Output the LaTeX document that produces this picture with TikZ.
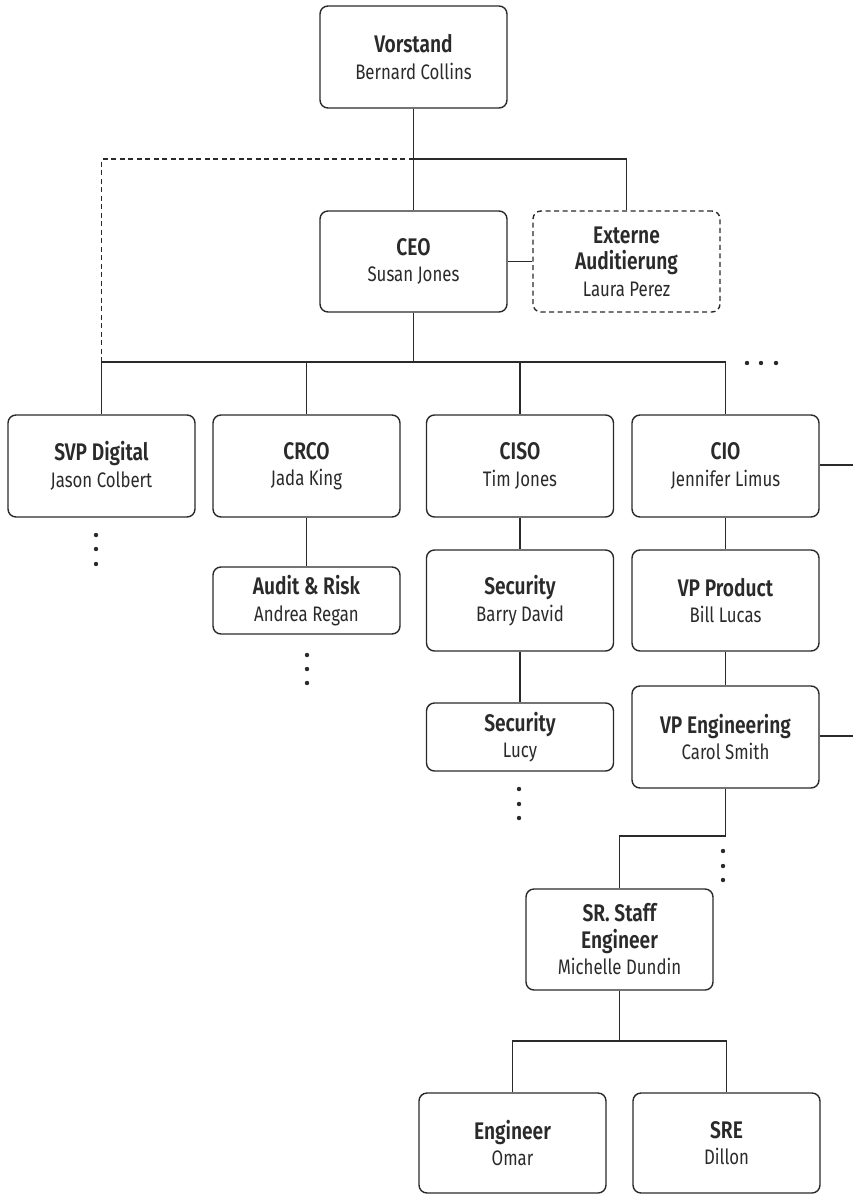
\documentclass[tikz,border=0pt]{standalone}
\usepackage{fontspec}
\setmainfont[FakeStretch=0.8,BoldFont={Fira Sans SemiBold},BoldFeatures={FakeStretch=0.8}]{Fira Sans}
\usetikzlibrary{calc}
\definecolor{ink}{HTML}{2A2A2A}
\newcommand{\ttl}[1]{{\fontsize{24}{26.5}\selectfont\bfseries #1}}
\newcommand{\nme}[1]{{\fontsize{21}{26.5}\selectfont #1}}
\begin{document}
\begin{tikzpicture}[x=1pt,y=-1pt,
  box/.style={draw=ink,line width=1.4pt,rounded corners=8pt,align=center,
    minimum width=187pt,inner sep=0pt,text=ink,font=\fontsize{21}{26.5}\selectfont},
  dbox/.style={box,dash pattern=on 5pt off 3.5pt},
  conn/.style={draw=ink,line width=1.2pt},
  dconn/.style={conn,dash pattern=on 5pt off 3.5pt},
  dot/.style={fill=ink}]
\useasboundingbox (0,0) rectangle (853,1194);
% boxes
\node[box,minimum height=102pt] (vor) at (413.5,57) {\ttl{Vorstand}\\\nme{Bernard Collins}};
\node[box,minimum height=101pt] (ceo) at (413.5,261.5) {\ttl{CEO}\\\nme{Susan Jones}};
\node[dbox,minimum height=101pt] (ext) at (626.5,261.5) {\ttl{Externe}\\\ttl{Auditierung}\\\nme{Laura Perez}};
\node[box,minimum height=102pt] (svp) at (101.5,466) {\ttl{SVP Digital}\\\nme{Jason Colbert}};
\node[box,minimum height=102pt] (crco) at (306.5,466) {\ttl{CRCO}\\\nme{Jada King}};
\node[box,minimum height=102pt] (ciso) at (520,466) {\ttl{CISO}\\\nme{Tim Jones}};
\node[box,minimum height=102pt] (cio) at (725.5,466) {\ttl{CIO}\\\nme{Jennifer Limus}};
\node[box,minimum height=67pt] (audit) at (306.5,600.5) {\ttl{Audit \& Risk}\\\nme{Andrea Regan}};
\node[box,minimum height=101pt] (sec) at (520,600.5) {\ttl{Security}\\\nme{Barry David}};
\node[box,minimum height=101pt] (vpp) at (725.5,600.5) {\ttl{VP Product}\\\nme{Bill Lucas}};
\node[box,minimum height=68pt] (lucy) at (520,737) {\ttl{Security}\\\nme{Lucy}};
\node[box,minimum height=102pt] (vpe) at (725.5,737) {\ttl{VP Engineering}\\\nme{Carol Smith}};
\node[box,minimum height=101pt] (sr) at (619.5,939.5) {\ttl{SR. Staff}\\\ttl{Engineer}\\\nme{Michelle Dundin}};
\node[box,minimum height=100pt] (eng) at (512.5,1143) {\ttl{Engineer}\\\nme{Omar}};
\node[box,minimum height=100pt] (sre) at (726.5,1143) {\ttl{SRE}\\\nme{Dillon}};
% helper coordinates
\coordinate (top) at (413.5,159);
\coordinate (bus) at (413.5,362);
\coordinate (cioR) at (853,465);
\coordinate (vpeR) at (853,736);
\coordinate (vpeTurn) at (725.5,836);
\coordinate (srBus) at (619.5,1041);
% connectors
\draw[conn] (vor.south) -- (ceo.north);
\draw[conn] (top) -| (ext.north);
\draw[dconn] (top) -| (svp.north |- bus);
\draw[conn] (ceo.east) -- (ext.west);
\draw[conn] (ceo.south) -- (bus);
\draw[conn] (svp.north) |- (bus) -| (cio.north);
\draw[conn] (crco.north) -- (crco.north |- bus);
\draw[conn] (ciso.north) -- (ciso.north |- bus);
\draw[conn] (cio.east |- cioR) -- (cioR);
\draw[conn] (crco.south) -- (audit.north);
\draw[conn] (ciso.south) -- (sec.north);
\draw[conn] (cio.south) -- (vpp.north);
\draw[conn] (sec.south) -- (lucy.north);
\draw[conn] (vpp.south) -- (vpe.north);
\draw[conn] (vpe.east |- vpeR) -- (vpeR);
\draw[conn] (vpe.south) -- (vpeTurn) -| (sr.north);
\draw[conn] (sr.south) -- (srBus);
\draw[conn] (eng.north) |- (srBus) -| (sre.north);
% ellipsis dots
\foreach \x in {747,761,776} \fill[dot] (\x,363) circle (2.2pt);
\foreach \y in {535,549,564} \fill[dot] (96,\y) circle (2.2pt);
\foreach \y in {655,669,683} \fill[dot] (307,\y) circle (2.2pt);
\foreach \y in {789,804,818} \fill[dot] (519,\y) circle (2.2pt);
\foreach \y in {851,866,880} \fill[dot] (723,\y) circle (2.2pt);
\end{tikzpicture}
\end{document}
